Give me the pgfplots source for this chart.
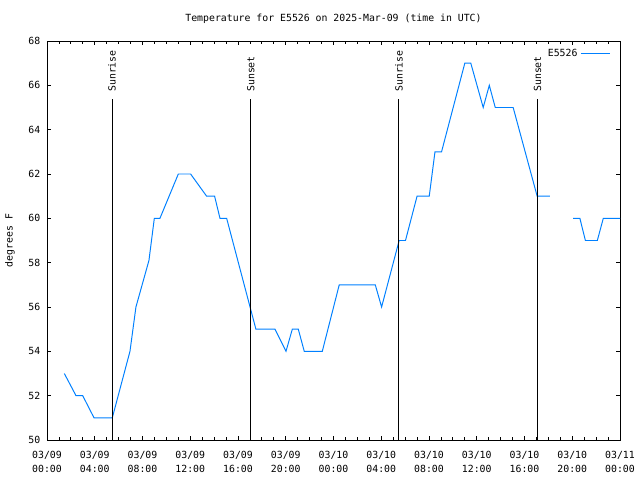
\documentclass[border=0pt]{standalone}
\usepackage{pgfplots}
\pgfplotsset{compat=1.18}
\usepackage{pgfplotstable}
\usepackage{fontspec}
\setmainfont{DejaVu Sans Mono}
\definecolor{lineblue}{RGB}{0,128,255}
\pgfplotstableread{
t T
1.45 53
2.43 52
2.99 52
3.94 51
5.47 51
6.95 54
7.45 56
8.54 58.1
8.99 60
9.46 60
11.0 62
12.03 62
13.37 61
14.04 61
14.49 60
15.05 60
17.5 55
19.1 55
20.02 54
20.55 55
21.05 55
21.55 54
23.06 54
24.48 57
27.5 57
28.03 56
29.5 59
30.03 59
31.0 61
32.02 61
32.5 63
33.05 63
35.0 67
35.5 67
36.54 65
37.05 66
37.55 65
39.05 65
41.06 61
42.13 61
43.0 nan
44.08 60
44.64 60
45.1 59
46.1 59
46.6 60
48.0 60
}\temps
\begin{document}
\fontsize{7}{8.5}\selectfont
\begin{tikzpicture}
\useasboundingbox (0,0) rectangle (16cm,12cm);
\begin{axis}[
  at={(1.175cm,1.0cm)}, anchor=south west,
  scale only axis, width=14.325cm, height=9.975cm,
  xmin=0, xmax=48, ymin=50, ymax=68,
  xtick={0,4,...,48},
  xticklabels={{03/09\\00:00},{03/09\\04:00},{03/09\\08:00},{03/09\\12:00},{03/09\\16:00},{03/09\\20:00},{03/10\\00:00},{03/10\\04:00},{03/10\\08:00},{03/10\\12:00},{03/10\\16:00},{03/10\\20:00},{03/11\\00:00}},
  xticklabel style={align=center, font=\fontsize{7}{9.5}\selectfont, yshift=-0.2cm},
  minor x tick num=3,
  ytick={50,52,...,68},
  yticklabel style={font=\fontsize{7}{8.5}\selectfont, xshift=-0.08cm},
  /pgf/number format/assume math mode=true,
  major tick length=0.1cm, minor tick length=0.07cm,
  tick style={black, line width=0.6pt},
  axis line style={line width=0.7pt},
  every axis title shift=0pt,
  title={Temperature for E5526 on 2025-Mar-09 (time in UTC)},
  title style={at={(axis description cs:0.5,1)}, anchor=center, yshift=0.55cm, font=\fontsize{7}{8.5}\selectfont},
  ylabel={degrees F},
  ylabel style={at={(axis description cs:-0.0646,0.5)}, anchor=center, font=\fontsize{7}{8.5}\selectfont},
  unbounded coords=jump,
  legend plot pos=right,
  legend style={at={(axis description cs:1,1)}, anchor=north east, draw=none, fill=none, xshift=-0.13cm, yshift=-0.05cm, font=\fontsize{7}{8.5}\selectfont},
  legend image code/.code={\draw[#1] (0cm,0cm) -- (0.725cm,0cm);},
]
\addplot[lineblue, line width=0.7pt] table[x=t, y=T] {\temps};
\addlegendentry{E5526}
\addplot[black, line width=0.7pt, forget plot] coordinates {(5.45,50) (5.45,65.38)};
\addplot[black, line width=0.7pt, forget plot] coordinates {(17.08,50) (17.08,65.38)};
\addplot[black, line width=0.7pt, forget plot] coordinates {(29.48,50) (29.48,65.38)};
\addplot[black, line width=0.7pt, forget plot] coordinates {(41.1,50) (41.1,65.38)};
\node[rotate=90, anchor=west, inner sep=0pt] at (axis cs:5.45,65.7) {Sunrise};
\node[rotate=90, anchor=west, inner sep=0pt] at (axis cs:17.08,65.7) {Sunset};
\node[rotate=90, anchor=west, inner sep=0pt] at (axis cs:29.48,65.7) {Sunrise};
\node[rotate=90, anchor=west, inner sep=0pt] at (axis cs:41.1,65.7) {Sunset};
\end{axis}
\end{tikzpicture}
\end{document}
